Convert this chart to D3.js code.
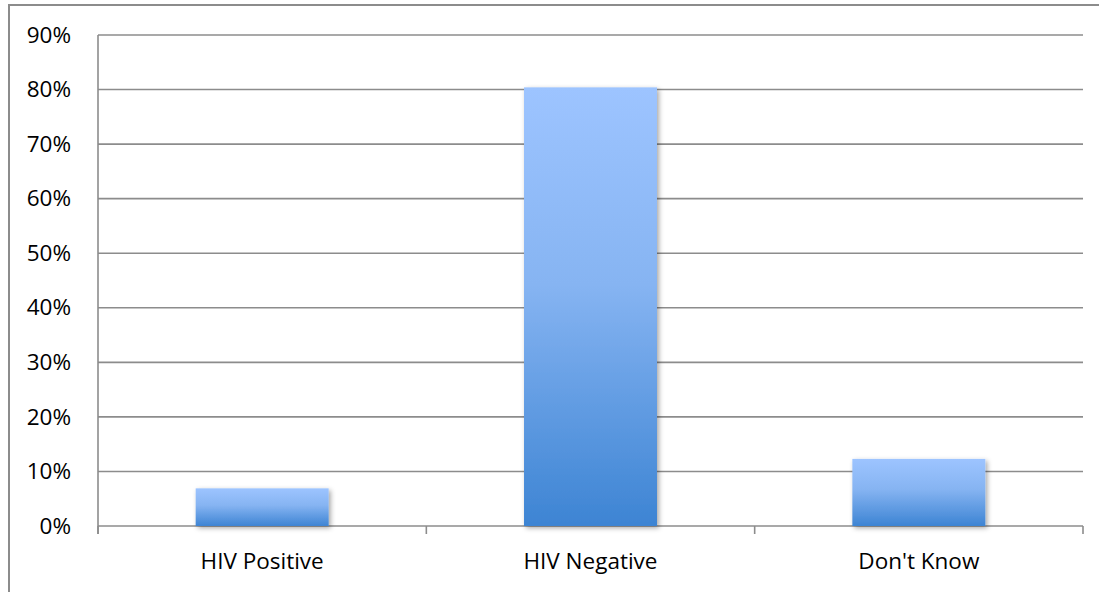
<!DOCTYPE html>
<html>
<head>
<meta charset="utf-8">
<script src="https://cdn.jsdelivr.net/npm/d3@7"></script>
<style>
  html, body { margin: 0; padding: 0; background: #fff; }
  svg { display: block; }
  text { font-family: "Open Sans", Lato, sans-serif; fill: #000; }
</style>
</head>
<body>
<svg id="chart" width="1099" height="592"></svg>
<script>
// HIV status responses (share of respondents)
const categories = ["HIV Positive", "HIV Negative", "Don't Know"];
const values = [0.069, 0.804, 0.123];
const yTicks = [0, 0.1, 0.2, 0.3, 0.4, 0.5, 0.6, 0.7, 0.8, 0.9];

const svg = d3.select("#chart");
const W = 1099, H = 592;
const plot = { left: 98, right: 1083, top: 35, bottom: 526 };
const fontFamily = "'Open Sans', Lato, sans-serif";
const fontSize = 22.5;

// Outer chart frame (runs off the right and bottom edges)
svg.append("rect")
  .attr("x", 9).attr("y", 5)
  .attr("width", W + 20).attr("height", H + 20)
  .attr("fill", "none").attr("stroke", "#8c8c8c").attr("stroke-width", 2);

const defs = svg.append("defs");
const grad = defs.append("linearGradient")
  .attr("id", "barFill").attr("x1", 0).attr("y1", 0).attr("x2", 0).attr("y2", 1);
grad.append("stop").attr("offset", "0%").attr("stop-color", "#9dc4ff");
grad.append("stop").attr("offset", "45%").attr("stop-color", "#86b4f2");
grad.append("stop").attr("offset", "100%").attr("stop-color", "#3d84d3");

const shadow = defs.append("filter").attr("id", "barShadow")
  .attr("x", "-10%").attr("y", "-10%").attr("width", "130%").attr("height", "130%");
shadow.append("feDropShadow")
  .attr("dx", 2).attr("dy", 2).attr("stdDeviation", 2.5)
  .attr("flood-color", "#000").attr("flood-opacity", 0.35);

const x = d3.scaleBand()
  .domain(categories)
  .range([plot.left, plot.right])
  .paddingInner(0.595).paddingOuter(0.2975);

const y = d3.scaleLinear().domain([0, 0.9]).range([plot.bottom, plot.top]);

// Horizontal gridlines
svg.append("g")
  .selectAll("line")
  .data(yTicks)
  .join("line")
  .attr("x1", plot.left).attr("x2", plot.right)
  .attr("y1", d => y(d)).attr("y2", d => y(d))
  .attr("stroke", "#8c8c8c").attr("stroke-width", 1.6);

// Y axis labels
const yAxis = d3.axisLeft(y).tickValues(yTicks).tickFormat(d3.format(".0%")).tickSize(0).tickPadding(0);
const yg = svg.append("g").attr("transform", `translate(${plot.left},0)`).call(yAxis);
yg.select(".domain").remove();
yg.selectAll("text")
  .attr("x", 71 - plot.left)
  .attr("font-size", fontSize)
  .attr("font-family", fontFamily)
  .attr("text-anchor", "end");

// Vertical axis line
svg.append("line")
  .attr("x1", plot.left).attr("x2", plot.left)
  .attr("y1", plot.top).attr("y2", plot.bottom + 8)
  .attr("stroke", "#8c8c8c").attr("stroke-width", 1.6);

// Category boundary ticks
const boundaries = d3.range(categories.length + 1).map(i => plot.left + i * (plot.right - plot.left) / categories.length);
svg.append("g")
  .selectAll("line")
  .data(boundaries)
  .join("line")
  .attr("x1", d => d).attr("x2", d => d)
  .attr("y1", plot.bottom).attr("y2", plot.bottom + 8)
  .attr("stroke", "#8c8c8c").attr("stroke-width", 1.6);

// Bars
svg.append("g")
  .selectAll("rect")
  .data(categories.map((c, i) => ({ c, v: values[i] })))
  .join("rect")
  .attr("x", d => x(d.c))
  .attr("y", d => y(d.v))
  .attr("width", x.bandwidth())
  .attr("height", d => y(0) - y(d.v))
  .attr("fill", "url(#barFill)")
  .attr("filter", "url(#barShadow)");

// Category labels
svg.append("g")
  .selectAll("text")
  .data(categories)
  .join("text")
  .attr("x", d => x(d) + x.bandwidth() / 2)
  .attr("y", 569)
  .attr("text-anchor", "middle")
  .attr("font-size", fontSize)
  .attr("font-family", fontFamily)
  .text(d => d);
</script>
</body>
</html>
